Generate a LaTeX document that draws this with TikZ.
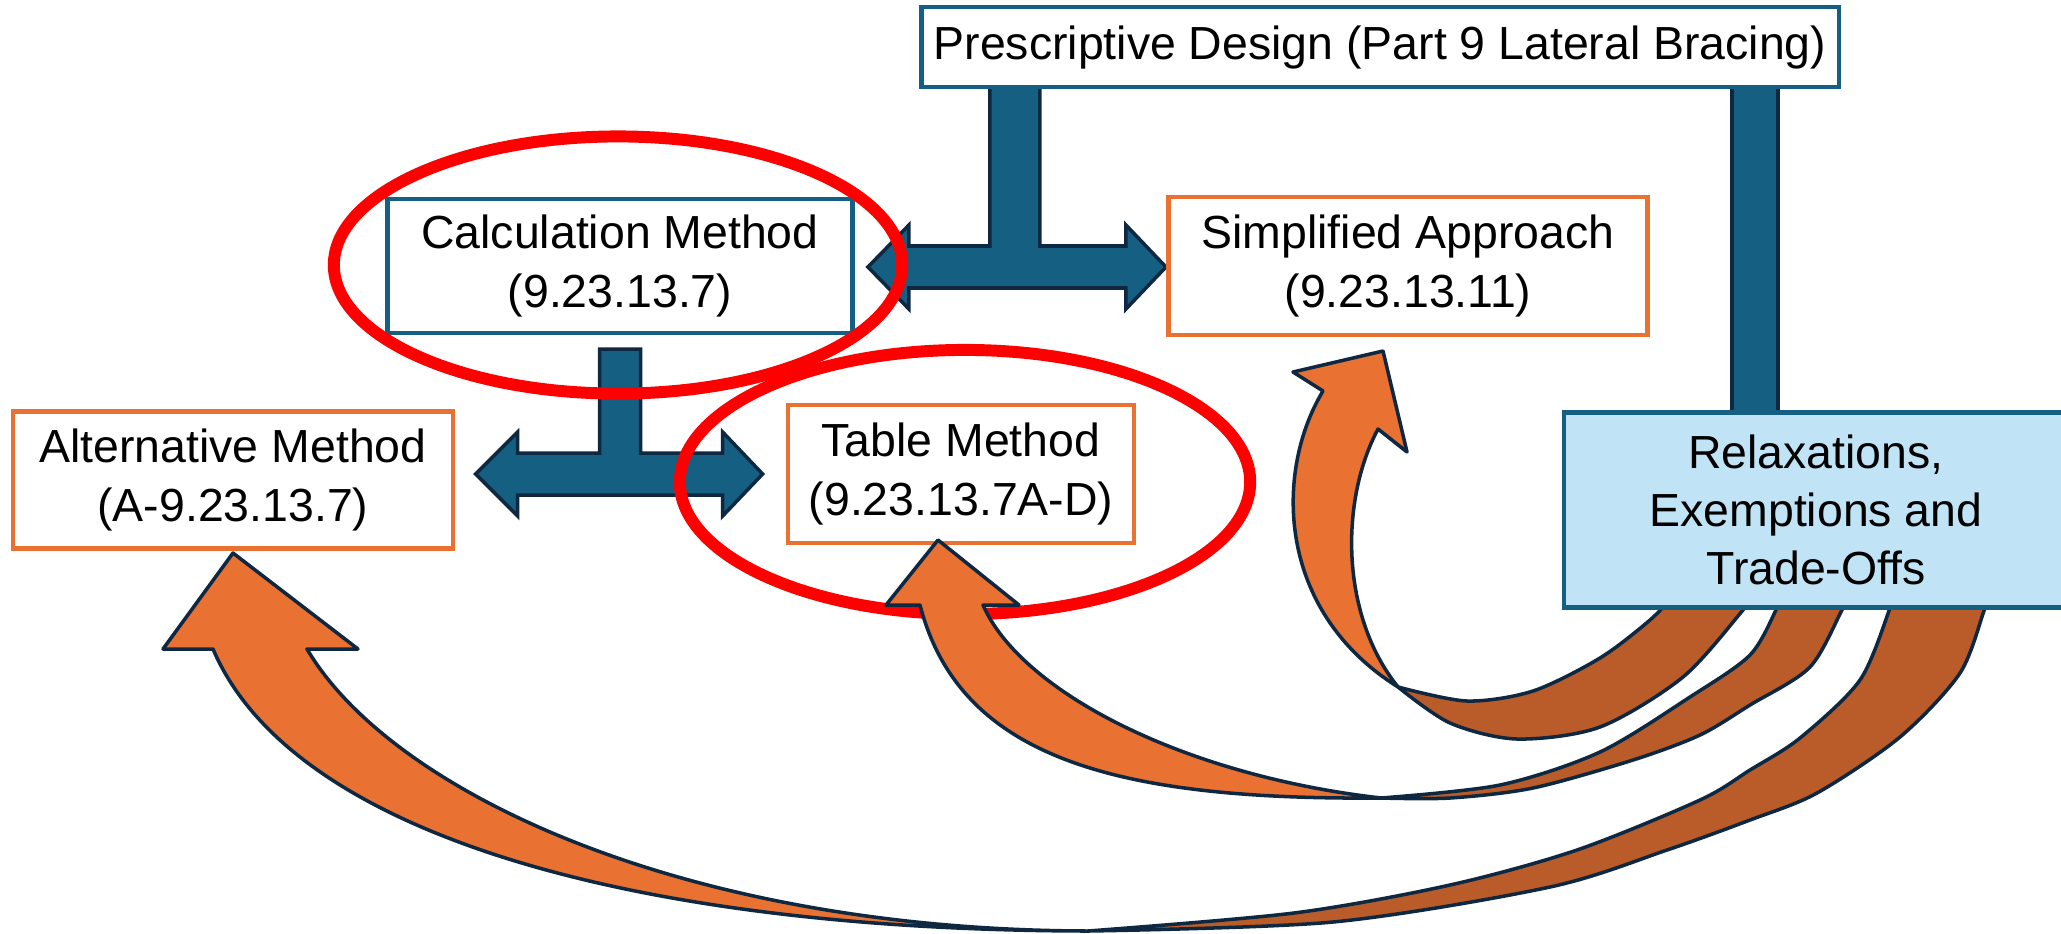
\documentclass[tikz,border=0pt]{standalone}
\usepackage{fontspec}
\setmainfont{Liberation Sans}
\usepackage{tikz}
\usetikzlibrary{calc,backgrounds}
\definecolor{BraceBlue}{HTML}{156082}
\definecolor{InkNavy}{HTML}{0E2841}
\definecolor{Tangerine}{HTML}{E97132}
\definecolor{Rust}{HTML}{BA5C29}
\definecolor{PaleSky}{HTML}{C0E4F5}

\begin{document}
\begin{tikzpicture}[x=0.01cm, y=-0.01cm,
  box/.style={draw, line width=1.3pt, fill=white, align=center, inner sep=0pt, font=\fontsize{13.2}{16.6}\selectfont},
  bluebox/.style={box, draw=BraceBlue},
  orangebox/.style={box, draw=Tangerine},
  tee/.style={draw=InkNavy, fill=BraceBlue, line width=1pt},
  ribbon/.style={draw=InkNavy, fill=Tangerine, line width=1pt, line join=round},
  ribbonback/.style={ribbon, fill=Rust},
  ring/.style={draw=red, line width=3.4pt}]
\useasboundingbox (0,0) rectangle (2061,933);

\node[bluebox, minimum width=9.17cm, minimum height=0.80cm] (pd) at (1380,47) {Prescriptive Design (Part 9 Lateral Bracing)};
\node[bluebox, minimum width=4.65cm, minimum height=1.34cm] (calc) at (620,266) {Calculation Method\\(9.23.13.7)};
\node[orangebox, minimum width=4.79cm, minimum height=1.38cm] (simp) at (1408,266) {Simplified Approach\\(9.23.13.11)};
\node[orangebox, minimum width=4.40cm, minimum height=1.37cm] (alt) at (233,480) {Alternative Method\\(A-9.23.13.7)};
\node[orangebox, minimum width=3.46cm, minimum height=1.38cm] (tab) at (961,474) {Table Method\\(9.23.13.7A-D)};

\begin{pgfonlayer}{background}
\draw[tee] ($(calc.east)+(13,1)$) -- ++(41,-42) -- ++(0,21) -- ++(81,0) -- ++(0,-160) -- ++(50,0) -- ++(0,160)
  -- ++(86,0) -- ++(0,-21) -- ++(40,42) -- ++(-40,42) -- ++(0,-21) -- ++(-217,0) -- ++(0,21) -- cycle;
\draw[tee] ($(tab.west)+(-310,0)$) -- ++(42,-42) -- ++(0,21) -- ++(82,0) -- ++(0,-104) -- ++(41,0) -- ++(0,104)
  -- ++(82,0) -- ++(0,-21) -- ++(40,42) -- ++(-40,42) -- ++(0,-21) -- ++(-205,0) -- ++(0,21) -- cycle;
\draw[tee] (1732,80) rectangle (1778,420);
\end{pgfonlayer}

\draw[ring] (618,265) ellipse [x radius=2.84cm, y radius=1.285cm];
\draw[ring] (965,482) ellipse [x radius=2.85cm, y radius=1.32cm];

% curved arrow up to the simplified approach
\draw[ribbon] (1398,687) .. controls (1275,610) and (1275,470) .. (1323,391)
  -- (1293,372) -- (1383,351) -- (1407,452) -- (1378,429)
  .. controls (1340,500) and (1340,615) .. (1398,687) -- cycle;
\draw[ribbonback] plot[smooth] coordinates {(1398,687) (1467,701) (1533,691) (1600,658) (1650,620) (1677,592)}
  -- (1756,592) -- plot[smooth] coordinates {(1756,592) (1743,610) (1683,677) (1600,727) (1517,739) (1450,723) (1398,687)} -- cycle;

% curved arrow up to the table method
\draw[ribbon] (1381,798) .. controls (1120,800) and (960,760) .. (920,605)
  -- (886,605) -- (938,540) -- (1019,605) -- (983,605)
  .. controls (1020,690) and (1180,775) .. (1381,798) -- cycle;
\draw[ribbonback] plot[smooth] coordinates {(1381,798) (1500,785) (1600,752) (1690,697) (1750,655) (1777,608) (1784,592)}
  -- (1853,592) -- plot[smooth] coordinates {(1853,592) (1843,608) (1810,667) (1750,705) (1700,735) (1633,760) (1533,788) (1450,798) (1381,798)} -- cycle;

% curved arrow up to the alternative method
\draw[ribbon] (1088,931) .. controls (620,930) and (290,830) .. (213,649)
  -- (163,649) -- (233,553) -- (358,649) -- (307,649)
  .. controls (390,790) and (680,930) .. (1088,931) -- cycle;
\draw[ribbonback] plot[smooth] coordinates {(1088,931) (1294,913) (1450,885) (1577,850) (1700,800) (1750,770) (1800,738) (1860,680) (1890,608) (1894,592)}
  -- (1993,592) -- plot[smooth] coordinates {(1993,592) (1985,608) (1960,673) (1900,737) (1817,793) (1750,820) (1667,850) (1550,887) (1333,922) (1088,931)} -- cycle;

\node[bluebox, fill=PaleSky, minimum width=5.04cm, minimum height=1.95cm] (rel) at (1816,510) {Relaxations,\\Exemptions and\\Trade-Offs};
\end{tikzpicture}
\end{document}
